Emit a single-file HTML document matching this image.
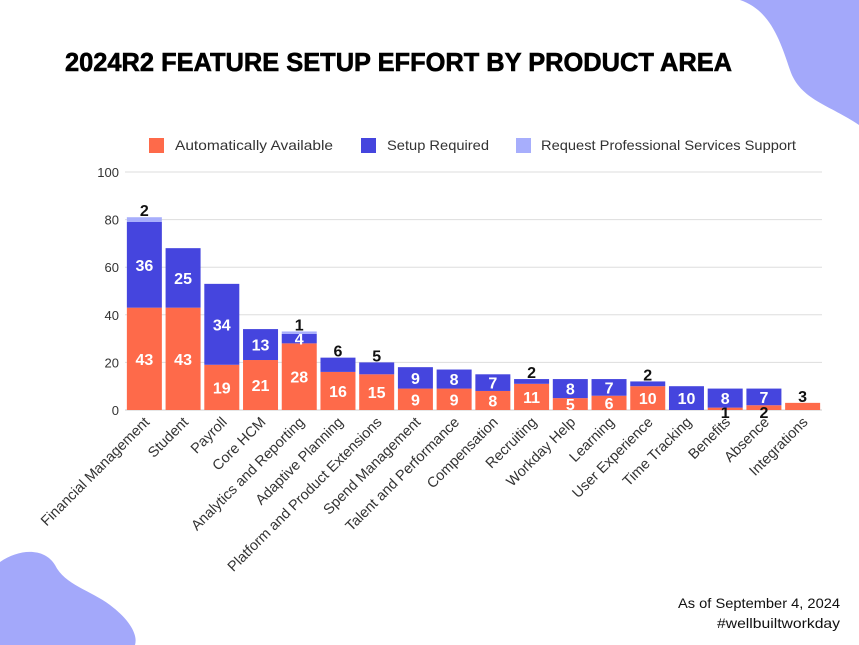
<!DOCTYPE html>
<html><head><meta charset="utf-8"><style>
html,body{margin:0;padding:0;background:#fff;}
svg{display:block;font-family:"Liberation Sans",sans-serif;}
</style></head><body>
<svg id="chart" width="859" height="645" viewBox="0 0 859 645">
<path d="M740,0 C770,10 780,40 790,70 C800,100 830,105 859,125 L859,0 Z" fill="#a3a8fa"/>
<path d="M0,562 C20,548 45,548 55,565 C65,585 90,590 110,605 C130,620 138,635 135,645 L0,645 Z" fill="#a3a8fa"/>
<text x="65" y="71" font-size="26" font-weight="bold" textLength="667" lengthAdjust="spacingAndGlyphs" fill="#000" stroke="#000" stroke-width="0.6">2024R2 FEATURE SETUP EFFORT BY PRODUCT AREA</text>
<g font-size="14" fill="#333">
<rect x="149" y="138" width="15" height="15" fill="#fe6a4a"/>
<text x="175" y="150" textLength="158" lengthAdjust="spacingAndGlyphs">Automatically Available</text>
<rect x="361" y="138" width="15" height="15" fill="#4545de"/>
<text x="387" y="150" textLength="102" lengthAdjust="spacingAndGlyphs">Setup Required</text>
<rect x="516" y="138" width="15" height="15" fill="#a7aefc"/>
<text x="541" y="150" textLength="255" lengthAdjust="spacingAndGlyphs">Request Professional Services Support</text>
</g>
<g id="grid"></g><g id="bars"></g><g id="xlabels"></g>
<text x="840" y="608" font-size="14" text-anchor="end" fill="#111" textLength="162" lengthAdjust="spacingAndGlyphs">As of September 4, 2024</text>
<text x="840" y="628" font-size="14" text-anchor="end" fill="#111" textLength="123" lengthAdjust="spacingAndGlyphs">#wellbuiltworkday</text>
</svg>
<script>
const categories=["Financial Management","Student","Payroll","Core HCM","Analytics and Reporting","Adaptive Planning","Platform and Product Extensions","Spend Management","Talent and Performance","Compensation","Recruiting","Workday Help","Learning","User Experience","Time Tracking","Benefits","Absence","Integrations"];
const autoVals=[43,43,19,21,28,16,15,9,9,8,11,5,6,10,0,1,2,3];
const setupVals=[36,25,34,13,4,6,5,9,8,7,2,8,7,2,10,8,7,0];
const psVals=[2,0,0,0,1,0,0,0,0,0,0,0,0,0,0,0,0,0];
const yTicks=[0,20,40,60,80,100];
const NS="http://www.w3.org/2000/svg";
const x0=125,x1=822,yB=410,yT=172;
const step=(x1-x0)/categories.length,bw=35;
const y=v=>yB-(v/100)*(yB-yT);
const xc=i=>x0+step*(i+0.5);
function mk(t,a,p){const e=document.createElementNS(NS,t);for(const k in a)e.setAttribute(k,a[k]);p.appendChild(e);return e;}
const grid=document.getElementById('grid');
yTicks.forEach(t=>{
 const l=mk('line',{x1:x0,x2:x1,y1:y(t),y2:y(t),stroke:t===0?'#ccc':'#ddd','stroke-width':1},grid);
 
 
 const tx=mk('text',{x:119,y:y(t)+5,'text-anchor':'end','font-size':13,fill:'#333'},grid);
 tx.textContent=t;
 
 
});
const bars=document.getElementById('bars'),xl=document.getElementById('xlabels');
const series=[[autoVals,'#fe6a4a','auto'],[setupVals,'#4545de','setup'],[psVals,'#a7aefc','ps']];
categories.forEach((c,i)=>{
 let base=0;
 series.forEach(([arr,col,nm])=>{
  const v=arr[i];if(!v)return;
  const r=mk('rect',{x:xc(i)-bw/2,y:y(base+v),width:bw,height:y(base)-y(base+v),fill:col},bars);
  
  
  const h=y(base)-y(base+v);
  const t=mk('text',{x:xc(i),'text-anchor':'middle','font-size':16,'font-weight':'bold'},bars);
  const smallTopSetup=nm==='setup'&&v<=6&&!psVals[i];
  if(h>=9&&!smallTopSetup){t.setAttribute('y',(y(base)+y(base+v))/2+6);t.setAttribute('fill','#fff');}
  else if(nm==='auto'&&setupVals[i]>0){t.setAttribute('y',y(base)+8);t.setAttribute('fill','#111');}
  else{t.setAttribute('y',y(base+v)-1);t.setAttribute('fill','#111');}
  t.textContent=v;
  
  
  base+=v;
 });
 const lx=xc(i)+6,ly=423;
 const t=mk('text',{x:lx,y:ly,'text-anchor':'end','font-size':14.5,fill:'#333',transform:`rotate(-45 ${lx} ${ly})`},xl);
 t.textContent=c;
 
 
});
</script>
</body></html>
